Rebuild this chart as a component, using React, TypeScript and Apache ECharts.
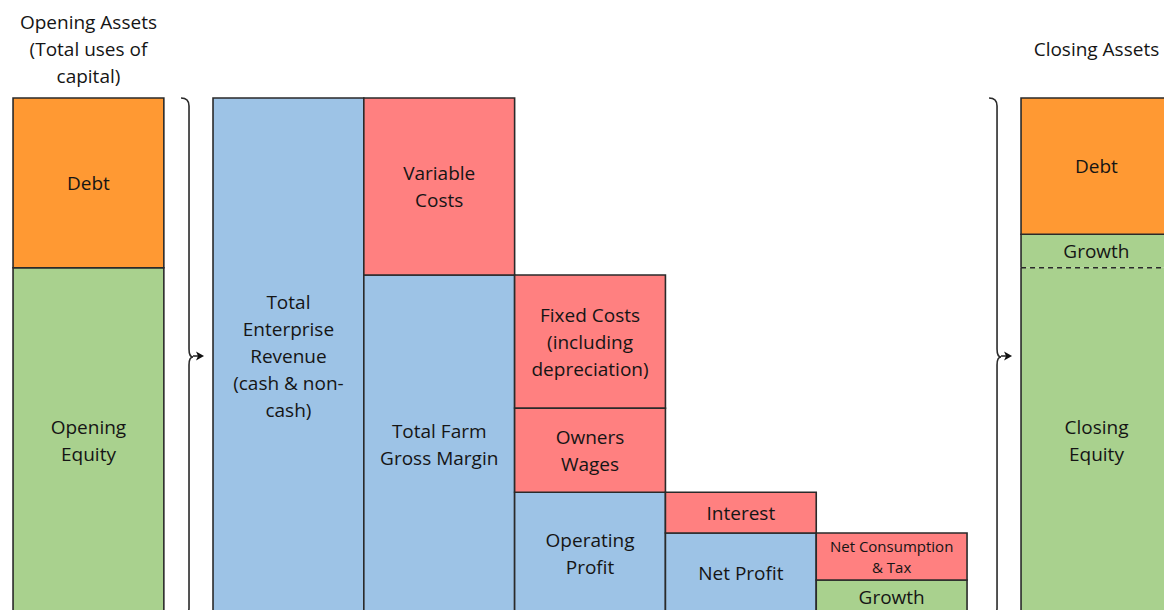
import React, { useEffect, useRef } from "react";
import * as echarts from "echarts";

// ---- Data (each column stacked bottom-up; total column height = 100) ----
const columnNames = ["Opening Assets", "Revenue", "Gross Margin", "Costs", "Operating Profit", "Net Profit", "Closing Assets"];
const segmentColumns = [0, 0, 1, 2, 2, 3, 3, 3, 4, 4, 5, 5, 6, 6, 6];
const segmentLabels = [
  "Opening\nEquity",
  "Debt",
  "Total\nEnterprise\nRevenue\n(cash & non-\ncash)",
  "Total Farm\nGross Margin",
  "Variable\nCosts",
  "Operating\nProfit",
  "Owners\nWages",
  "Fixed Costs\n(including\ndepreciation)",
  "Net Profit",
  "Interest",
  "Growth",
  "Net Consumption\n& Tax",
  "Closing\nEquity",
  "Growth",
  "Debt",
];
const segmentValues = [67.1, 32.9, 100, 65.7, 34.3, 23.6, 16.3, 25.8, 15.7, 7.9, 6.6, 9.1, 67.1, 6.5, 26.4];
const segmentKinds = [
  "equity", "debt", "income", "income", "cost", "income", "cost", "cost",
  "income", "cost", "growth", "cost", "equity", "growth", "debt",
];
const dashedBaseSegments = [13]; // closing Growth sits on a dashed line
const compactLabels = [11];
const headerTitles = ["Opening Assets\n(Total uses of\ncapital)", "", "", "", "", "", "Closing Assets"];

// ---- Layout / style (not data) ----
const colStart = [-0.326, 1, 2, 3, 4, 5, 6.358];
const kindColors: Record<string, string> = {
  debt: "#FF9933",
  equity: "#A9D18E",
  growth: "#A9D18E",
  income: "#9DC3E6",
  cost: "#FF8080",
};
const BORDER = "#2a2a2a";
const FONT = "'Open Sans', 'Noto Sans', sans-serif";
const TEXT = "#151515";
const FS = 19;
const FS_SMALL = 15;

// build stacked segments
const stackTops: number[] = columnNames.map(() => 0);
const segments = segmentValues.map((v, i) => {
  const c = segmentColumns[i];
  const y0 = stackTops[c];
  const y1 = y0 + v;
  stackTops[c] = y1;
  return { col: c, x0: colStart[c], y0, y1, label: segmentLabels[i], kind: segmentKinds[i] };
});
const openTop = segments.map((s, i) => {
  const above = segments.findIndex((t, j) => j > i && t.col === s.col && Math.abs(t.y0 - s.y1) < 1e-6);
  return above >= 0 && dashedBaseSegments.includes(above);
});

echarts.graphic.registerShape(
  "brace",
  echarts.graphic.extendShape({
    shape: { x: 0, top: 0, bottom: 0, w: 8, p: 4 },
    buildPath(ctx: any, shape: any) {
      const { x, top, bottom, w, p } = shape;
      const mid = (top + bottom) / 2;
      ctx.moveTo(x - w, top);
      ctx.quadraticCurveTo(x, top, x, top + w);
      ctx.lineTo(x, mid - w);
      ctx.quadraticCurveTo(x, mid, x + p, mid);
      ctx.quadraticCurveTo(x, mid, x, mid + w);
      ctx.lineTo(x, bottom - w);
      ctx.quadraticCurveTo(x, bottom, x - w, bottom);
    },
  }) as any
);

export default function App() {
  const ref = useRef<HTMLDivElement>(null);
  useEffect(() => {
    if (!ref.current) return;
    const chart = echarts.init(ref.current, undefined, { renderer: "svg" });
    chart.setOption({
      animation: false,
      backgroundColor: "#ffffff",
      grid: { left: 0, right: 0, top: 98, bottom: 0 },
      xAxis: { type: "value", min: -0.4125, max: 7.306, show: false, splitLine: { show: false } },
      yAxis: { type: "value", min: 0, max: 100, show: false, splitLine: { show: false } },
      series: [
        {
          type: "custom",
          data: segments.map((s) => [s.x0, s.y0, s.y1]),
          renderItem: (params: any, api: any) => {
            const i = params.dataIndex;
            const s = segments[i];
            const tl = api.coord([s.x0, s.y1]);
            const br = api.coord([s.x0 + 1, s.y0]);
            const x = tl[0], y = tl[1], w = br[0] - tl[0], h = br[1] - tl[1];
            const fill = kindColors[s.kind];
            const children: any[] = [
              { type: "rect", shape: { x, y, width: w, height: h }, style: { fill, stroke: "none" } },
            ];
            const stroke = { stroke: BORDER, lineWidth: 1.6, fill: "none" };
            if (dashedBaseSegments.includes(i)) {
              children.push({
                type: "polyline",
                shape: { points: [[x, y + h], [x, y], [x + w, y], [x + w, y + h]] },
                style: stroke,
              });
              children.push({
                type: "line",
                shape: { x1: x, y1: y + h, x2: x + w, y2: y + h },
                style: { stroke: BORDER, lineWidth: 1.5, lineDash: [5, 4] },
              });
            } else if (openTop[i]) {
              children.push({
                type: "polyline",
                shape: { points: [[x, y], [x, y + h], [x + w, y + h], [x + w, y]] },
                style: stroke,
              });
            } else {
              children.push({ type: "rect", shape: { x, y, width: w, height: h }, style: stroke });
            }
            const compact = compactLabels.includes(i);
            children.push({
              type: "text",
              x: x + w / 2,
              y: y + h / 2,
              style: {
                text: s.label,
                fill: TEXT,
                fontFamily: FONT,
                fontSize: compact ? FS_SMALL : FS,
                lineHeight: compact ? 21 : 27,
                align: "center",
                verticalAlign: "middle",
              },
            });
            return { type: "group", children };
          },
        },
      ],
    });

    // decorations: titles, braces and arrows positioned via the axes
    const topPx = chart.convertToPixel({ gridIndex: 0 }, [0, 100]) as number[];
    const botPx = chart.convertToPixel({ gridIndex: 0 }, [0, 0]) as number[];
    const colPx = (v: number) => (chart.convertToPixel({ gridIndex: 0 }, [v, 0]) as number[])[0];
    const graphic: any[] = [];
    headerTitles.forEach((t, c) => {
      if (!t) return;
      graphic.push({
        type: "text",
        x: colPx(colStart[c] + 0.5),
        y: topPx[1] - 49,
        style: {
          text: t,
          fill: TEXT,
          fontFamily: FONT,
          fontSize: FS,
          lineHeight: 27,
          align: "center",
          verticalAlign: "middle",
          textAlign: "center",
          textVerticalAlign: "middle",
        },
      });
    });
    const braceBefore = [1, 6];
    braceBefore.forEach((c) => {
      const nextLeft = colPx(colStart[c]);
      const bx = nextLeft - 24;
      const top = topPx[1];
      const bottom = botPx[1] + 2;
      const mid = (top + bottom) / 2 - 1;
      graphic.push({
        type: "brace",
        shape: { x: bx, top, bottom, w: 8, p: 4 },
        style: { stroke: BORDER, lineWidth: 1.6, fill: "none" },
      });
      const tip = nextLeft - 9;
      graphic.push({
        type: "line",
        shape: { x1: bx + 4, y1: mid, x2: tip - 5, y2: mid },
        style: { stroke: BORDER, lineWidth: 1.6 },
      });
      graphic.push({
        type: "polygon",
        shape: { points: [[tip, mid], [tip - 8, mid - 4.5], [tip - 6, mid], [tip - 8, mid + 4.5]] },
        style: { fill: "#111" },
      });
    });
    chart.setOption({ graphic });

    return () => chart.dispose();
  }, []);
  return (
    <div style={{ position: "fixed", left: 0, top: 0, width: 1164, height: 610, overflow: "hidden", background: "#fff" }}>
      <div ref={ref} style={{ width: 1164, height: 614 }} />
    </div>
  );
}
